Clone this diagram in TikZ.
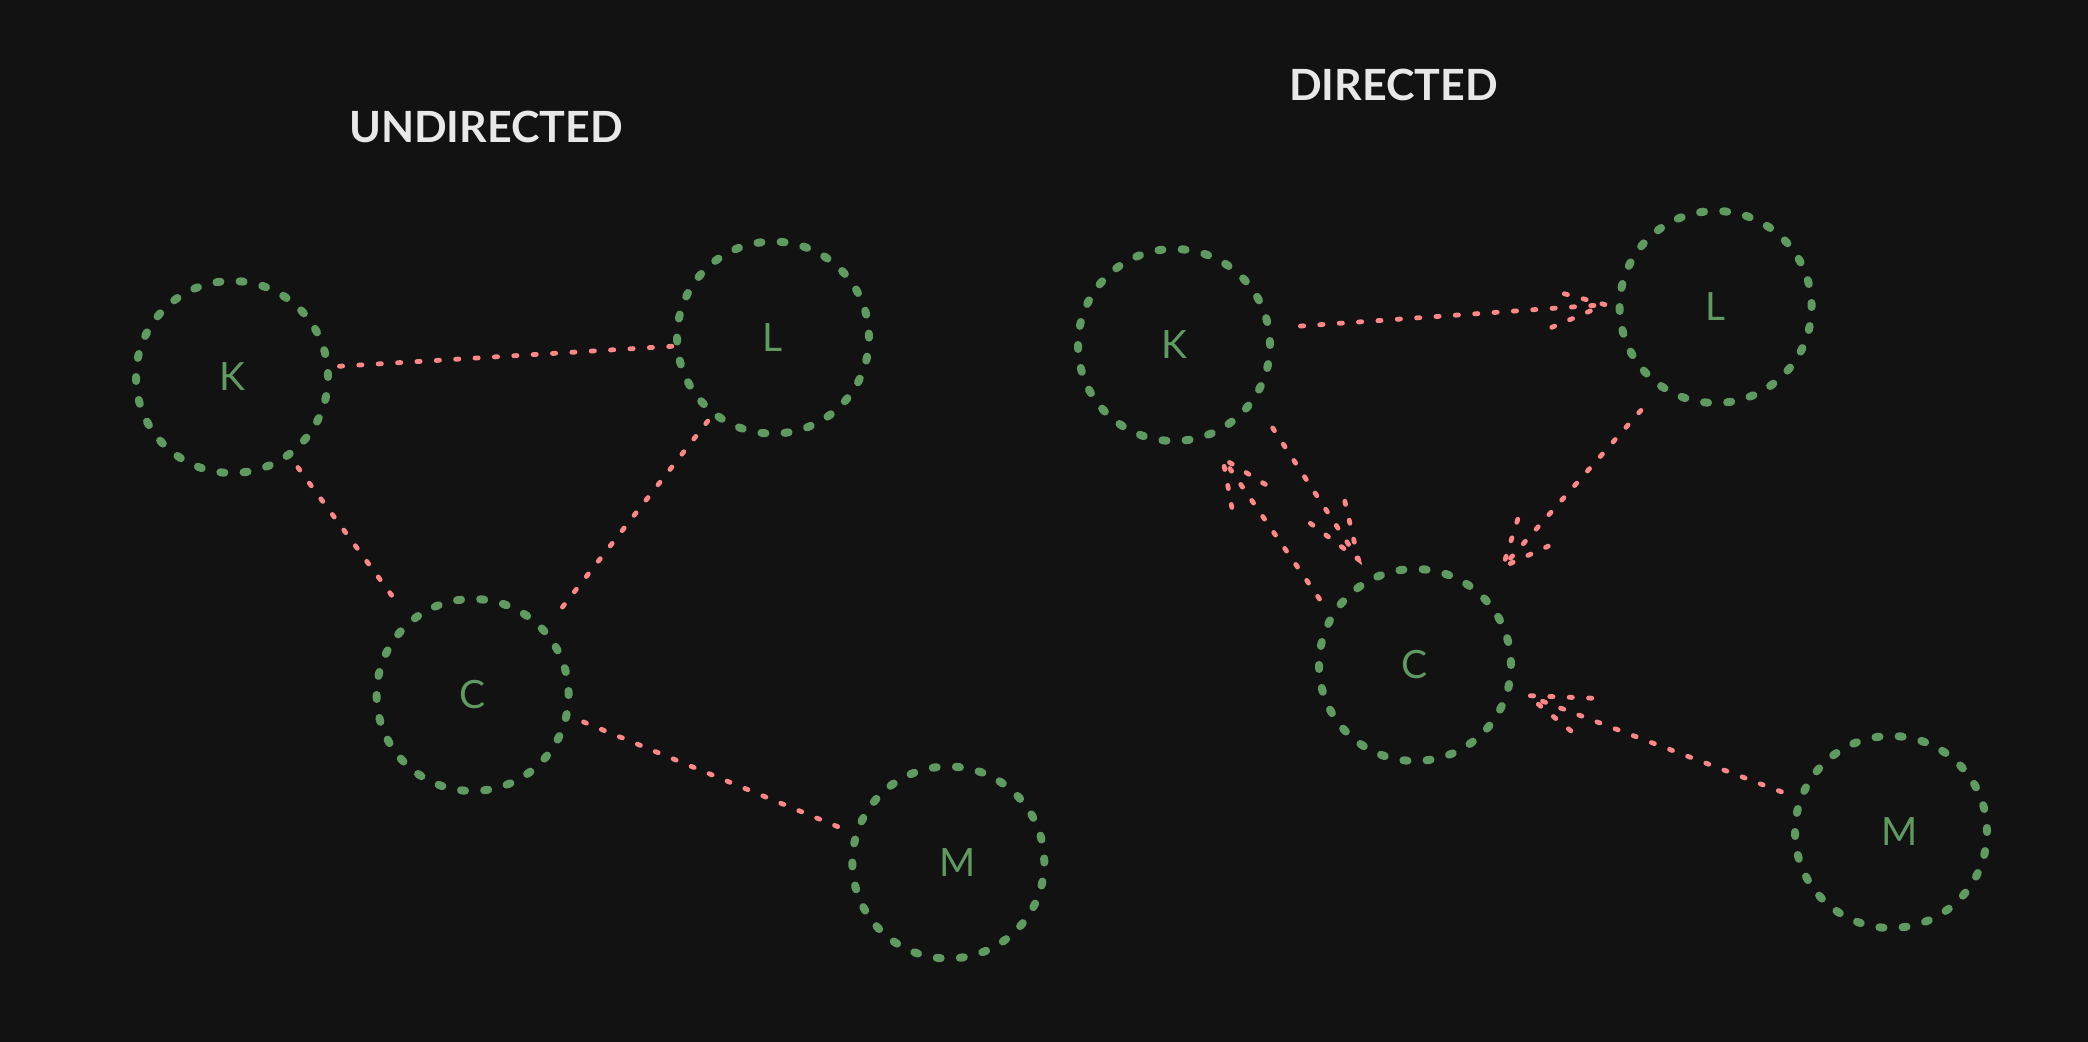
\documentclass[tikz,border=0pt]{standalone}
\usepackage{fontspec}
\setmainfont{Lato}
\usetikzlibrary{calc}
\definecolor{bg}{HTML}{121212}
\definecolor{grn}{HTML}{5F9B61}
\definecolor{pnk}{HTML}{FF8787}
\definecolor{ttl}{HTML}{E8E8E8}
\tikzset{
  vtx/.style={circle, draw=grn, line width=4pt, dash pattern=on 2pt off 9.6pt,
    line cap=round, minimum size=96pt, inner sep=0pt, outer sep=0pt, text=grn,
    font=\fontsize{19.5}{19.5}\selectfont},
  edge/.style={draw=pnk, line width=2.4pt, dash pattern=on 1.6pt off 8.1pt, line cap=round},
  ttlstyle/.style={text=ttl, font=\fontsize{21.5}{21.5}\selectfont\bfseries}
}
\newcommand{\dirarrow}[8]{%
  \draw[edge, shorten <=#3pt, shorten >=#6pt] (#1.#2) -- (#4.#5);
  \coordinate (tip#1#4) at ($(#4.#5)!#6pt!(#1.#2)$);
  \draw[edge] ($(tip#1#4)!#7pt!#8:(#1.#2)$) -- (tip#1#4) -- ($(tip#1#4)!#7pt!-#8:(#1.#2)$);
}
\begin{document}
\begin{tikzpicture}[x=0.5pt, y=0.5pt]
\fill[bg] (0,0) rectangle (2088,1042);
\useasboundingbox (0,0) rectangle (2088,1042);
% titles
\node[ttlstyle] (T1) at (486,915) {UNDIRECTED};
\node[ttlstyle] (T2) at (1393.5,957) {DIRECTED};
% undirected graph
\node[vtx] (K1) at (232,665) {K};
\node[vtx] (L1) at (773,704.4) {L};
\node[vtx] (C1) at (472.6,347) {C};
\node[vtx] (M1) at (948.3,179.5) {\kern9pt M};
\draw[edge, shorten <=6pt] (K1.6.5) -- (L1.185.6);
\draw[edge, shorten <=8pt, shorten >=8.7pt] (K1.-54) -- (C1.130);
\draw[edge, shorten <=5pt, shorten >=8.7pt] (L1.232) -- (C1.42.5);
\draw[edge, shorten <=9.2pt, shorten >=5pt] (C1.-12.6) -- (M1.163);
% directed graph
\node[vtx] (K2) at (1174,697) {K};
\node[vtx] (L2) at (1715.6,735) {L};
\node[vtx] (C2) at (1415,377) {C};
\node[vtx] (M2) at (1891,210) {\kern9pt M};
\dirarrow{K2}{10}{16}{L2}{178}{7.3}{29}{19}
\dirarrow{K2}{-34}{17.5}{C2}{117}{12}{30}{20}
\dirarrow{C2}{150}{10.9}{K2}{-70}{14}{25}{24}
\dirarrow{L2}{236}{15.9}{C2}{48}{17.8}{25}{24}
\dirarrow{M2}{160}{10.4}{C2}{-14}{10.5}{32}{18.5}
\end{tikzpicture}
\end{document}
